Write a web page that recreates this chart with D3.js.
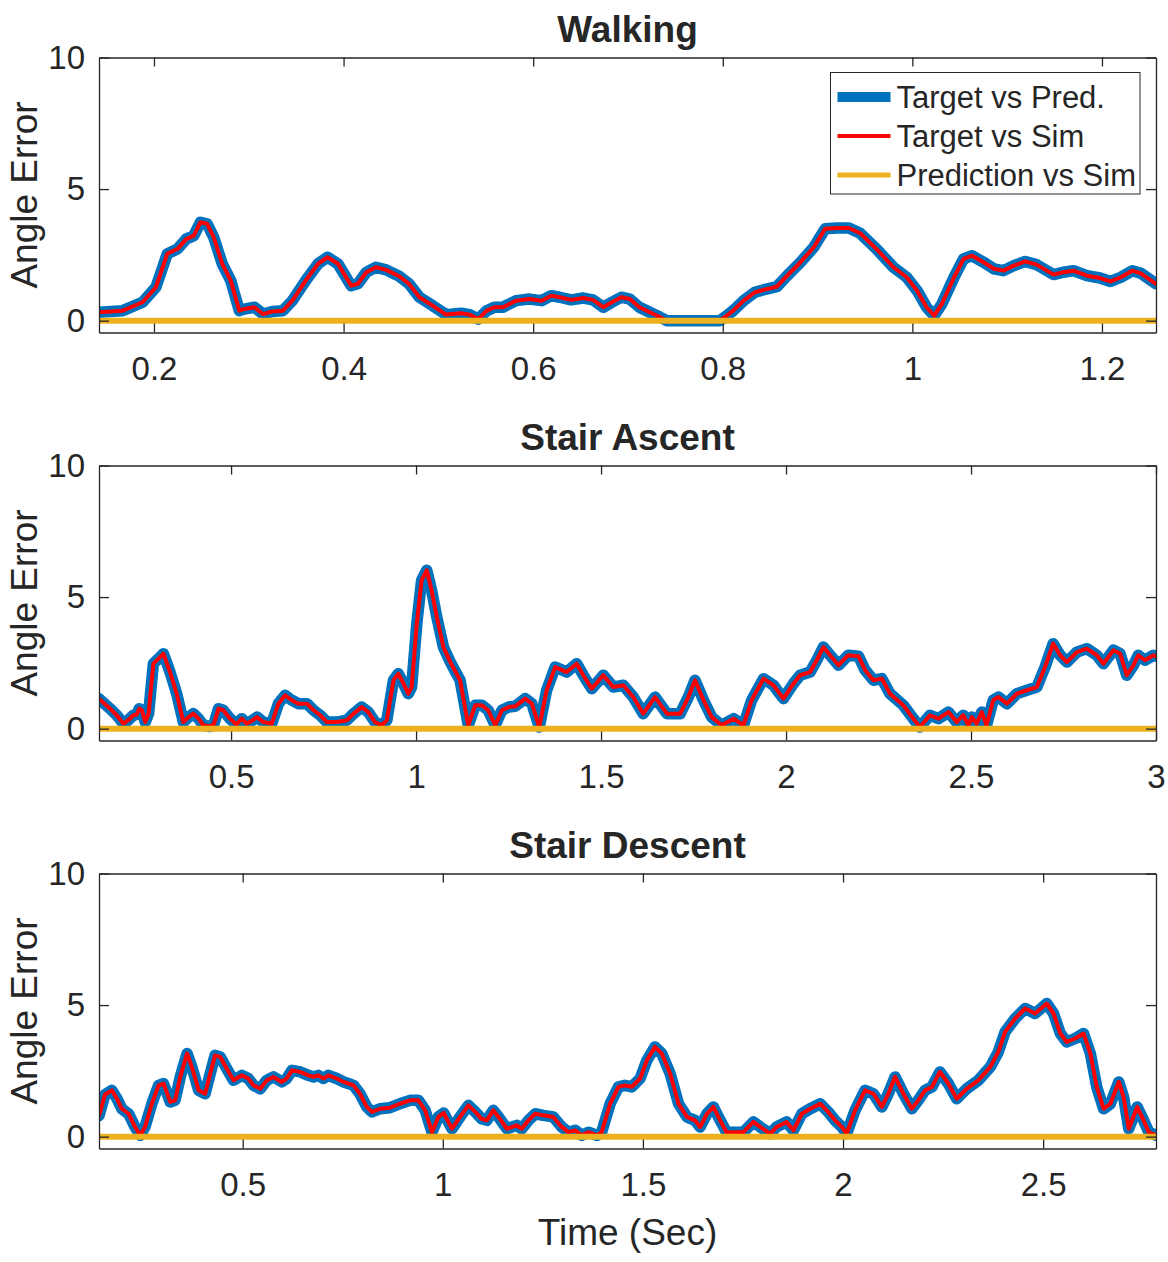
<!DOCTYPE html>
<html>
<head>
<meta charset="utf-8">
<script src="https://cdn.jsdelivr.net/npm/d3@7"></script>
<style>
    body { margin: 0; background: #fff; }
    text { font-family: "Liberation Sans", Arial, Helvetica, sans-serif; fill: #262626; }
    .axis path, .axis line { stroke: #262626; stroke-width: 1.3; }
</style>
</head>
<body>
<div id="chart"></div>
<script>
// Angle error traces as [time (s), error].
// "Target vs Sim" sits right on top of "Target vs Pred." in every panel.
const walkPred = [[0.142,0.32],[0.167,0.38],[0.188,0.70],[0.202,1.27],[0.214,2.54],[0.225,2.73],[0.234,3.10],[0.242,3.23],[0.249,3.74],[0.256,3.68],[0.263,3.17],[0.272,2.16],[0.281,1.52],[0.290,0.38],[0.295,0.44],[0.306,0.51],[0.315,0.25],[0.325,0.35],[0.336,0.38],[0.346,0.76],[0.360,1.52],[0.373,2.16],[0.383,2.41],[0.394,2.16],[0.408,1.33],[0.415,1.40],[0.424,1.84],[0.434,2.03],[0.445,1.93],[0.459,1.68],[0.469,1.40],[0.480,0.89],[0.494,0.57],[0.508,0.23],[0.524,0.28],[0.533,0.23],[0.542,0.06],[0.551,0.38],[0.559,0.51],[0.568,0.51],[0.582,0.76],[0.596,0.82],[0.609,0.76],[0.619,0.95],[0.628,0.89],[0.640,0.79],[0.653,0.86],[0.663,0.79],[0.674,0.51],[0.683,0.70],[0.693,0.89],[0.702,0.82],[0.712,0.51],[0.723,0.32],[0.734,0.13],[0.741,0.00],[0.758,0.00],[0.797,0.00],[0.802,0.13],[0.811,0.38],[0.822,0.76],[0.834,1.08],[0.846,1.20],[0.857,1.29],[0.868,1.71],[0.882,2.22],[0.896,2.79],[0.908,3.49],[0.920,3.52],[0.933,3.52],[0.945,3.32],[0.962,2.73],[0.980,2.03],[0.994,1.65],[1.005,1.14],[1.015,0.51],[1.023,0.19],[1.031,0.63],[1.044,1.65],[1.054,2.35],[1.063,2.47],[1.075,2.22],[1.086,1.97],[1.096,1.90],[1.107,2.09],[1.119,2.25],[1.131,2.13],[1.149,1.75],[1.159,1.84],[1.170,1.90],[1.184,1.71],[1.198,1.62],[1.209,1.49],[1.220,1.65],[1.232,1.90],[1.241,1.80],[1.257,1.40]];
const walkSim = walkPred;
const walkPredSim = [[0.142,0],[1.257,0]];

const ascentPred = [[0.143,1.14],[0.173,0.76],[0.191,0.51],[0.209,0.19],[0.222,0.32],[0.236,0.51],[0.245,0.54],[0.252,0.76],[0.259,0.70],[0.268,0.25],[0.277,0.57],[0.290,2.47],[0.304,2.66],[0.317,2.85],[0.335,2.15],[0.353,1.33],[0.371,0.25],[0.385,0.44],[0.398,0.57],[0.412,0.38],[0.425,0.13],[0.443,0.08],[0.454,0.19],[0.466,0.76],[0.479,0.70],[0.497,0.38],[0.515,0.16],[0.529,0.38],[0.542,0.19],[0.556,0.30],[0.570,0.44],[0.587,0.25],[0.610,0.19],[0.628,0.95],[0.646,1.27],[0.664,1.08],[0.682,0.95],[0.705,0.95],[0.723,0.70],[0.741,0.51],[0.759,0.25],[0.786,0.25],[0.813,0.32],[0.831,0.57],[0.853,0.82],[0.871,0.63],[0.889,0.25],[0.907,0.13],[0.921,0.32],[0.939,1.84],[0.952,2.09],[0.966,1.71],[0.979,1.33],[0.988,1.58],[1.002,3.99],[1.015,5.64],[1.029,6.02],[1.042,5.26],[1.056,4.24],[1.074,3.10],[1.092,2.55],[1.105,2.20],[1.119,1.84],[1.141,0.13],[1.160,0.89],[1.178,0.89],[1.195,0.70],[1.214,0.13],[1.232,0.70],[1.250,0.82],[1.268,0.85],[1.295,1.14],[1.313,0.95],[1.333,0.06],[1.353,1.46],[1.376,2.34],[1.407,2.15],[1.434,2.47],[1.452,2.03],[1.475,1.52],[1.506,2.03],[1.533,1.58],[1.560,1.65],[1.587,1.20],[1.614,0.57],[1.646,1.20],[1.678,0.57],[1.714,0.57],[1.736,1.20],[1.754,1.84],[1.777,1.08],[1.799,0.44],[1.826,0.13],[1.858,0.38],[1.885,0.13],[1.907,1.08],[1.939,1.90],[1.966,1.65],[1.993,1.14],[2.020,1.71],[2.038,2.03],[2.065,2.15],[2.083,2.60],[2.101,3.10],[2.119,2.79],[2.142,2.41],[2.168,2.79],[2.196,2.75],[2.214,2.22],[2.236,1.84],[2.259,1.90],[2.281,1.33],[2.317,0.89],[2.344,0.38],[2.362,0.06],[2.389,0.51],[2.412,0.38],[2.439,0.63],[2.461,0.25],[2.479,0.51],[2.493,0.13],[2.502,0.44],[2.515,0.19],[2.529,0.63],[2.542,0.13],[2.560,1.08],[2.574,1.20],[2.597,0.95],[2.624,1.33],[2.651,1.46],[2.678,1.58],[2.700,2.34],[2.722,3.23],[2.741,2.79],[2.759,2.53],[2.786,2.91],[2.813,3.04],[2.840,2.79],[2.858,2.47],[2.885,2.98],[2.903,2.85],[2.921,2.03],[2.939,2.41],[2.952,2.79],[2.970,2.60],[2.993,2.79],[3.000,2.75]];
const ascentSim = ascentPred;
const ascentPredSim = [[0.143,0],[3.0,0]];

const descentPred = [[0.141,0.80],[0.156,1.60],[0.173,1.76],[0.186,1.44],[0.198,1.06],[0.215,0.87],[0.231,0.37],[0.244,0.05],[0.256,0.37],[0.273,1.25],[0.290,1.95],[0.302,2.02],[0.319,1.32],[0.331,1.38],[0.344,2.27],[0.361,3.16],[0.373,2.65],[0.390,1.76],[0.406,1.63],[0.419,2.40],[0.431,3.09],[0.444,3.03],[0.460,2.59],[0.477,2.14],[0.498,2.33],[0.514,2.21],[0.527,1.95],[0.544,1.82],[0.560,2.14],[0.577,2.27],[0.598,2.08],[0.610,2.21],[0.623,2.52],[0.644,2.46],[0.664,2.33],[0.677,2.27],[0.689,2.33],[0.702,2.21],[0.714,2.33],[0.735,2.21],[0.752,2.08],[0.764,2.02],[0.777,1.95],[0.793,1.63],[0.810,1.13],[0.823,0.94],[0.843,1.06],[0.868,1.10],[0.893,1.25],[0.918,1.38],[0.939,1.38],[0.956,1.00],[0.973,0.17],[0.989,0.75],[1.002,0.90],[1.023,0.30],[1.043,0.75],[1.064,1.19],[1.081,0.94],[1.097,0.68],[1.110,0.62],[1.126,1.00],[1.139,0.75],[1.160,0.30],[1.185,0.43],[1.197,0.30],[1.214,0.62],[1.231,0.87],[1.251,0.81],[1.276,0.75],[1.297,0.37],[1.314,0.17],[1.331,0.24],[1.347,0.05],[1.364,0.17],[1.385,0.05],[1.397,0.17],[1.418,1.25],[1.439,1.89],[1.455,1.95],[1.472,1.89],[1.493,2.21],[1.510,2.90],[1.530,3.41],[1.547,3.16],[1.568,2.40],[1.589,1.25],[1.610,0.75],[1.630,0.62],[1.643,0.37],[1.660,0.87],[1.676,1.13],[1.693,0.62],[1.709,0.17],[1.730,0.17],[1.751,0.17],[1.776,0.56],[1.793,0.37],[1.818,0.11],[1.834,0.37],[1.859,0.56],[1.876,0.24],[1.897,0.87],[1.918,1.06],[1.943,1.25],[1.963,0.94],[1.980,0.62],[1.997,0.37],[2.009,0.11],[2.030,1.00],[2.055,1.76],[2.076,1.63],[2.097,1.13],[2.113,1.63],[2.130,2.27],[2.151,1.63],[2.172,1.06],[2.188,1.38],[2.205,1.76],[2.222,1.89],[2.242,2.46],[2.263,2.02],[2.284,1.44],[2.309,1.82],[2.338,2.14],[2.368,2.65],[2.388,3.22],[2.405,3.98],[2.430,4.49],[2.455,4.87],[2.480,4.68],[2.509,5.06],[2.526,4.68],[2.543,3.92],[2.559,3.60],[2.580,3.73],[2.601,3.92],[2.618,3.16],[2.634,1.89],[2.651,1.06],[2.668,1.25],[2.689,2.08],[2.701,1.51],[2.714,0.30],[2.735,1.13],[2.751,0.62],[2.764,0.17],[2.782,0.05]];
const descentSim = descentPred;
const descentPredSim = [[0.141,0],[2.782,0]];

// axis limits and ticks
const walkXDomain = [0.142, 1.257];
const ascentXDomain = [0.143, 3.0];
const descentXDomain = [0.141, 2.782];
const walkXTicks = [0.2, 0.4, 0.6, 0.8, 1, 1.2];
const ascentXTicks = [0.5, 1, 1.5, 2, 2.5, 3];
const descentXTicks = [0.5, 1, 1.5, 2, 2.5];
const yDomain = [-0.45, 10];
const yTicks = [0, 5, 10];

const seriesNames = ["Target vs Pred.", "Target vs Sim", "Prediction vs Sim"];
const seriesColors = ["#0072BD", "#FF0000", "#EDB120"];
const seriesWidths = [11.5, 4, 6];

const svg = d3.select("#chart")
    .append("svg")
    .attr("width", 1168)
    .attr("height", 1262);

class ErrorPanel {
    constructor(_config, _data) {
        this.config = {
            title: _config.title,
            top: _config.top,
            left: 99,
            width: 1057,
            height: 275,
            xDomain: _config.xDomain,
            xTicks: _config.xTicks,
            id: _config.id
        };
        this.data = _data;
        this.initVis();
    }

    initVis() {
        let vis = this;
        let c = vis.config;

        vis.chart = svg.append("g")
            .attr("transform", `translate(${c.left},${c.top})`);

        vis.xScale = d3.scaleLinear().domain(c.xDomain).range([0, c.width]);
        vis.yScale = d3.scaleLinear().domain(yDomain).range([c.height, 0]);

        // clip the traces to the axes box, like MATLAB does
        svg.append("clipPath")
            .attr("id", "clip-" + c.id)
            .append("rect")
            .attr("width", c.width)
            .attr("height", c.height);

        let line = d3.line()
            .x(d => vis.xScale(d[0]))
            .y(d => vis.yScale(d[1]));

        let traces = vis.chart.append("g")
            .attr("clip-path", `url(#clip-${c.id})`);

        vis.data.forEach((series, i) => {
            traces.append("path")
                .datum(series)
                .attr("d", line)
                .attr("fill", "none")
                .attr("stroke", seriesColors[i])
                .attr("stroke-width", seriesWidths[i])
                .attr("stroke-linejoin", "round")
                .attr("stroke-linecap", "round");
        });

        // axes: ticks point inward on all four sides
        let fmt = d => String(d);
        vis.chart.append("g")
            .attr("class", "axis")
            .attr("transform", `translate(0,${c.height})`)
            .call(d3.axisBottom(vis.xScale).tickValues(c.xTicks).tickFormat(fmt)
                .tickSizeInner(-9).tickSizeOuter(0).tickPadding(24))
            .selectAll("text")
            .style("font-size", "33px");

        vis.chart.append("g")
            .attr("class", "axis")
            .call(d3.axisTop(vis.xScale).tickValues(c.xTicks).tickFormat("")
                .tickSizeInner(-9).tickSizeOuter(0));

        vis.chart.append("g")
            .attr("class", "axis")
            .call(d3.axisLeft(vis.yScale).tickValues(yTicks).tickFormat(fmt)
                .tickSizeInner(-10).tickSizeOuter(0).tickPadding(14))
            .selectAll("text")
            .style("font-size", "33px");

        vis.chart.append("g")
            .attr("class", "axis")
            .attr("transform", `translate(${c.width},0)`)
            .call(d3.axisRight(vis.yScale).tickValues(yTicks).tickFormat("")
                .tickSizeInner(-10).tickSizeOuter(0));

        vis.chart.selectAll(".axis text").attr("fill", "#262626");

        // title
        vis.chart.append("text")
            .attr("x", c.width / 2)
            .attr("y", -16)
            .attr("text-anchor", "middle")
            .style("font-size", "37px")
            .style("font-weight", "bold")
            .text(c.title);

        // y label
        vis.chart.append("text")
            .attr("transform", "rotate(-90)")
            .attr("x", -c.height / 2)
            .attr("y", 37 - c.left)
            .attr("text-anchor", "middle")
            .style("font-size", "37px")
            .text("Angle Error");
    }

    addLegend() {
        let vis = this;
        let lg = vis.chart.append("g")
            .attr("transform", `translate(${830.5 - vis.config.left},${72.5 - vis.config.top})`);

        lg.append("rect")
            .attr("width", 309.5)
            .attr("height", 121.5)
            .attr("fill", "#fff")
            .attr("stroke", "#262626")
            .attr("stroke-width", 1);

        seriesNames.forEach((name, i) => {
            let cy = 24.5 + i * 39;
            lg.append("line")
                .attr("x1", 7).attr("x2", 60)
                .attr("y1", cy).attr("y2", cy)
                .attr("stroke", seriesColors[i])
                .attr("stroke-width", i === 0 ? 10 : (i === 1 ? 4 : 5));
            lg.append("text")
                .attr("x", 66)
                .attr("y", cy + 11)
                .style("font-size", "31px")
                .text(name);
        });
    }
}

let walking = new ErrorPanel(
    { title: "Walking", top: 57.5, xDomain: walkXDomain, xTicks: walkXTicks, id: "walk" },
    [walkPred, walkSim, walkPredSim]);
walking.addLegend();

new ErrorPanel(
    { title: "Stair Ascent", top: 465.5, xDomain: ascentXDomain, xTicks: ascentXTicks, id: "ascent" },
    [ascentPred, ascentSim, ascentPredSim]);

new ErrorPanel(
    { title: "Stair Descent", top: 873.5, xDomain: descentXDomain, xTicks: descentXTicks, id: "descent" },
    [descentPred, descentSim, descentPredSim]);

// shared x label under the last panel
svg.append("text")
    .attr("x", 627.5)
    .attr("y", 1245)
    .attr("text-anchor", "middle")
    .style("font-size", "37px")
    .text("Time (Sec)");
</script>
</body>
</html>
